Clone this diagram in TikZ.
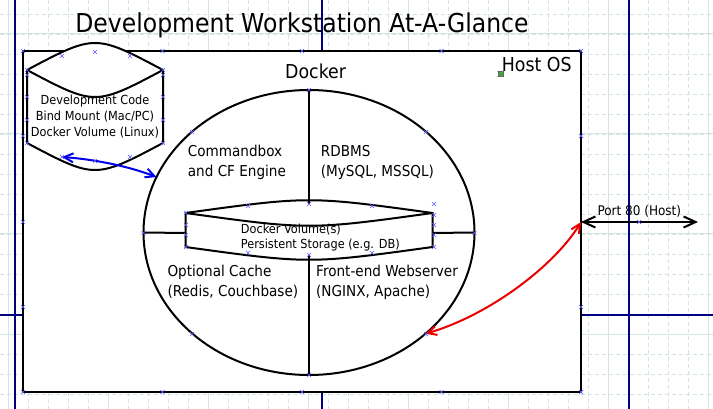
\documentclass[tikz,border=0pt]{standalone}
\usepackage{fontspec}
\setmainfont{DejaVu Sans}[FakeStretch=0.905]
\usetikzlibrary{arrows.meta,shapes.geometric}
\definecolor{gridc}{RGB}{212,227,227}
\definecolor{guidec}{RGB}{0,0,128}
\definecolor{selx}{RGB}{90,90,255}
\definecolor{arrblue}{RGB}{0,0,235}
\definecolor{arrred}{RGB}{235,0,0}
\definecolor{pingreen}{RGB}{40,210,40}
\begin{document}
\begin{tikzpicture}[x=1pt,y=-1pt,
  gridminor/.style={draw=gridc,line width=0.9pt,dash pattern=on 4pt off 3pt},
  gridmajor/.style={draw=gridc,line width=1pt},
  guideline/.style={draw=guidec,line width=1.1pt},
  shapeline/.style={draw=black,line width=2pt},
  txt/.style={inner sep=0pt,anchor=base west,font=\fontsize{15pt}{18pt}\selectfont},
  smalltxt/.style={inner sep=0pt,font=\fontsize{12.5pt}{15pt}\selectfont},
  bigtxt/.style={inner sep=0pt,anchor=base west,font=\fontsize{19.2pt}{22pt}\selectfont},
  selmark/.pic={\draw[selx,line width=0.7pt] (-2,-2) -- (2,2) (-2,2) -- (2,-2);},
  bothbarb/.style={{Straight Barb[length=#1,width=#1]}-{Straight Barb[length=#1,width=#1]}}
]
\useasboundingbox (0,0) rectangle (713,409);
% grid
\foreach \gx in {8,28,...,708} \draw[gridminor] (\gx,0) -- (\gx,409);
\foreach \gy in {14,34,...,394} \draw[gridminor] (0,\gy) -- (713,\gy);
\foreach \gx in {8,108,...,708} \draw[gridmajor] (\gx,0) -- (\gx,409);
\foreach \gy in {34,134,234,334} \draw[gridmajor] (0,\gy) -- (713,\gy);
% guides
\draw[guideline] (15,0) -- (15,409);
\draw[guideline] (322,0) -- (322,409);
\draw[guideline] (629,0) -- (629,409);
\draw[guideline] (0,315) -- (713,315);
% title
\node[inner sep=0pt,anchor=base,font=\fontsize{26pt}{30pt}\selectfont] (title) at (302,32.3) {Development Workstation At-A-Glance};
% host rectangle
\node[draw,fill=white,line width=2.5pt,minimum width=558pt,minimum height=341pt,inner sep=0pt,outer sep=0pt,anchor=north west] (host) at (23,51) {};
\node[draw=black!60,fill=pingreen,minimum size=5.5pt,inner sep=0pt,line width=0.5pt] (pin) at (500.5,74) {};
\draw[black!60,line width=0.4pt] (pin.north west) -- (pin.south east) (pin.north east) -- (pin.south west);
\node[bigtxt] (hostlbl) at (501.7,72) {Host OS};
\node[bigtxt] (dockerlbl) at (285,79) {Docker};
% code cylinder
\draw[shapeline,fill=white] (27,70) .. controls (95,34) .. (163,70) -- (163,143) .. controls (95,179) .. (27,143) -- cycle;
\draw[shapeline] (27,70) .. controls (95,106) .. (163,70);
\node[smalltxt,anchor=base] (code1) at (95,104.3) {Development Code};
\node[smalltxt,anchor=base] (code2) at (95,120.5) {Bind Mount (Mac/PC)};
\node[smalltxt,anchor=base] (code3) at (95,136.7) {Docker Volume (Linux)};
\coordinate (cylbot) at (62,157);
% docker ellipse
\node[ellipse,shapeline,fill=white,minimum width=331pt,minimum height=285pt,inner sep=0pt,outer sep=0pt] (docker) at (309,232.5) {};
% volume
\draw[shapeline,fill=white] (185.5,213) .. controls (309,196) .. (432.5,213) -- (432.5,247) .. controls (309,264) .. (185.5,247) -- cycle;
\draw[shapeline] (185.5,213) .. controls (309,230) .. (432.5,213);
\coordinate (voltop) at (309,204.5);
\coordinate (volbot) at (309,255.5);
\coordinate (volL) at (185.5,233);
\coordinate (volR) at (432.5,233);
\draw[shapeline] (docker.north) -- (voltop);
\draw[shapeline] (volbot) -- (docker.south);
\draw[shapeline] (docker.west) -- (volL);
\draw[shapeline] (volR) -- (docker.east);
\node[smalltxt,anchor=base west] (vol1) at (240.7,233.3) {Docker Volume(s)};
\node[smalltxt,anchor=base west] (vol2) at (240.7,248.5) {Persistent Storage (e.g. DB)};
% quadrant labels
\node[txt] (cb1) at (187.7,156.7) {Commandbox};
\node[txt] (cb2) at (187.7,176.7) {and CF Engine};
\node[txt] (db1) at (320.7,156.7) {RDBMS};
\node[txt] (db2) at (320.7,176.7) {(MySQL, MSSQL)};
\node[txt] (oc1) at (167.3,276.7) {Optional Cache};
\node[txt] (oc2) at (167.3,296.7) {(Redis, Couchbase)};
\node[txt] (fe1) at (316,276.7) {Front-end Webserver};
\node[txt] (fe2) at (316,296.7) {(NGINX, Apache)};
% port
\coordinate (port) at (581,222);
\coordinate (portend) at (698,222);
\draw[line width=2pt,{Straight Barb[length=12pt,width=11pt]}-{Straight Barb[length=12pt,width=11pt]}] (port) -- (portend);
\node[inner sep=0pt,anchor=base west,font=\fontsize{13.3pt}{16pt}\selectfont] (portlbl) at (597.3,215.7) {Port 80 (Host)};
% connectors
\draw[arrblue,line width=2pt,bothbarb=9pt] (cylbot) .. controls (90,159) and (125,165) .. (docker.160);
\draw[arrred,line width=2pt,bothbarb=9pt] (docker.-41) .. controls (490,315) and (555,265) .. (port);
% selection markers
\foreach \mx/\my in {23/51,162.5/51,302/51,441.5/51,581/51,581/136,581/307,581/392,441.5/392,302/392,162.5/392,23/392,23/307,23/222,23/136,
  27/70,27/75,27/97,27/120,27/143,163/70,163/75,163/97,163/120,163/143,62/56,95/52,130/56,62/157,95/161,130/157,
  309/90,143.5/233,474.5/233,309/375,192/132,426/132,192/334,426/334,
  186/213,186/225,186/235,186/247,248/206,309/204,372/206,434/204,434/215,434/225,434/235,434/247,248/253,309/255,372/253,639/222}
  \pic at (\mx,\my) {selmark};
\end{tikzpicture}
\end{document}
